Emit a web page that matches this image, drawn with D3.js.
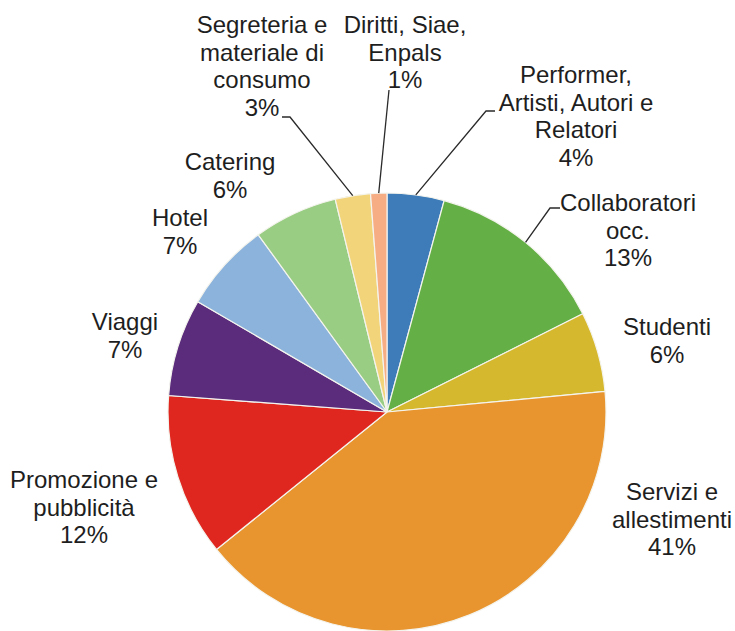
<!DOCTYPE html>
<html>
<head>
<meta charset="utf-8">
<script src="https://cdn.jsdelivr.net/npm/d3@7"></script>
<style>
  body { margin: 0; background: #fff; }
  svg text { font-family: "Liberation Sans Narrow", "Arial Narrow", "Liberation Sans", sans-serif; font-size: 24px; fill: #1e1e1e; }
</style>
</head>
<body>
<div id="chart"></div>
<script>
// Categories, clockwise from 12 o'clock
var categories = [
  "Performer, Artisti, Autori e Relatori",
  "Collaboratori occ.",
  "Studenti",
  "Servizi e allestimenti",
  "Promozione e pubblicità",
  "Viaggi",
  "Hotel",
  "Catering",
  "Segreteria e materiale di consumo",
  "Diritti, Siae, Enpals"
];
// share of total (%)
var values = [4.2, 13.4, 5.9, 40.7, 12.0, 7.2, 6.6, 6.2, 2.6, 1.2];
// label text as printed, one line per entry
var labelLines = [
  ["Performer,", "Artisti, Autori e", "Relatori"],
  ["Collaboratori", "occ."],
  ["Studenti"],
  ["Servizi e", "allestimenti"],
  ["Promozione e", "pubblicità"],
  ["Viaggi"],
  ["Hotel"],
  ["Catering"],
  ["Segreteria e", "materiale di", "consumo"],
  ["Diritti, Siae,", "Enpals"]
];
var colors = ["#3d7cb9", "#65b046", "#d6b82e", "#e8952f", "#e0271f",
              "#5b2b7c", "#8cb3db", "#9acd84", "#f2d47a", "#f6ad84"];

var width = 735, height = 631;
var cx = 387, cy = 412, radius = 219;
var lineH = 27.5;

// label block layout: x centre, y of first line, leader end point (if any)
var labelLayout = [
  {x: 576, y: 75,  leader: [[495, 111], [486, 111]]},
  {x: 628, y: 203, leader: [[560, 208], [550, 208]]},
  {x: 667, y: 327},
  {x: 672, y: 492},
  {x: 84,  y: 480},
  {x: 125, y: 322},
  {x: 180, y: 218},
  {x: 230, y: 162},
  {x: 262, y: 25,  leader: [[282, 117], [290, 117]]},
  {x: 405, y: 25,  leader: [[389, 90]]}
];

var svg = d3.select("#chart").append("svg")
  .attr("width", width)
  .attr("height", height);

var pie = d3.pie().sort(null).value(function(d) { return d; });
var arcs = pie(values);

var arc = d3.arc().innerRadius(0).outerRadius(radius);

var g = svg.append("g").attr("transform", "translate(" + cx + "," + cy + ")");

g.selectAll("path.slice")
  .data(arcs)
  .enter()
  .append("path")
  .attr("class", "slice")
  .attr("d", arc)
  .attr("fill", function(d, i) { return colors[i]; })
  .attr("stroke", "#f4f4ee")
  .attr("stroke-width", 1.2);

// leader lines from the slice edge to the label
arcs.forEach(function(d, i) {
  var lay = labelLayout[i];
  if (!lay.leader) return;
  var mid = (d.startAngle + d.endAngle) / 2;
  var p0 = [cx + radius * Math.sin(mid), cy - radius * Math.cos(mid)];
  var pts = [p0].concat(lay.leader.slice().reverse());
  svg.append("path")
    .attr("d", d3.line()(pts))
    .attr("fill", "none")
    .attr("stroke", "#2a2a2a")
    .attr("stroke-width", 1.3);
});

// labels
arcs.forEach(function(d, i) {
  var lay = labelLayout[i];
  var lines = labelLines[i].concat([Math.round(values[i]) + "%"]);
  var t = svg.append("text")
    .attr("text-anchor", "middle");
  lines.forEach(function(s, k) {
    t.append("tspan")
      .attr("x", lay.x)
      .attr("y", lay.y + k * lineH)
      .attr("dy", "0.35em")
      .text(s);
  });
});
</script>
</body>
</html>
